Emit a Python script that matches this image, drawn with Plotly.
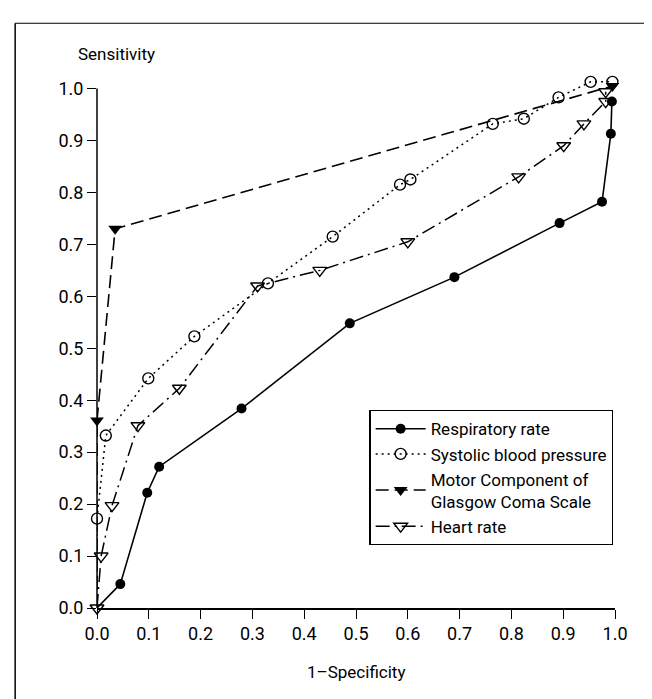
import plotly.graph_objects as go

# Data (1-Specificity, Sensitivity)
resp_x = [0.0, 0.045, 0.097, 0.12, 0.279, 0.488, 0.69, 0.893, 0.975, 0.992, 0.994]
resp_y = [0.0, 0.046, 0.222, 0.272, 0.384, 0.548, 0.637, 0.741, 0.782, 0.913, 0.975]

sbp_x = [0.0, 0.0, 0.017, 0.099, 0.188, 0.33, 0.455, 0.585, 0.605, 0.764, 0.824, 0.891, 0.953, 0.995]
sbp_y = [0.0, 0.172, 0.332, 0.442, 0.523, 0.625, 0.715, 0.815, 0.825, 0.932, 0.942, 0.983, 1.013, 1.013]

gcs_x = [0.0, 0.0, 0.035, 0.995]
gcs_y = [0.0, 0.361, 0.73, 1.005]

hr_x = [0.0, 0.008, 0.029, 0.079, 0.159, 0.31, 0.43, 0.6, 0.814, 0.901, 0.94, 0.982, 0.982]
hr_y = [0.0, 0.10, 0.197, 0.351, 0.423, 0.62, 0.65, 0.705, 0.83, 0.89, 0.932, 0.975, 0.994]

series_names = ["Respiratory rate", "Systolic blood pressure",
                "Motor Component of<br>Glasgow Coma Scale", "Heart rate"]
tick_vals = [0.0, 0.1, 0.2, 0.3, 0.4, 0.5, 0.6, 0.7, 0.8, 0.9, 1.0]
tick_text = ["0.0", "0.1", "0.2", "0.3", "0.4", "0.5", "0.6", "0.7", "0.8", "0.9", "1.0"]

FONT = "Roboto, Liberation Sans, sans-serif"

styles = [
    dict(line=dict(color="black", width=1.6, dash="solid"),
         marker=dict(symbol="circle", color="black", size=10)),
    dict(line=dict(color="black", width=1.5, dash="2px,4px"),
         marker=dict(symbol="circle-open", color="black", size=11,
                     line=dict(width=1.4, color="black"))),
    dict(line=dict(color="black", width=1.6, dash="13px,6px"),
         marker=dict(symbol="triangle-down", color="black", size=12)),
    dict(line=dict(color="black", width=1.5, dash="14px,5px,2px,5px"),
         marker=dict(symbol="triangle-down-open", color="black", size=12,
                     line=dict(width=1.4, color="black"))),
]

fig = go.Figure()

# segments from the origin (origin drawn without a marker for these series)
for xs, ys, st in [(resp_x, resp_y, styles[0]), (sbp_x, sbp_y, styles[1]), (gcs_x, gcs_y, styles[2])]:
    fig.add_trace(go.Scatter(x=xs[:2], y=ys[:2], mode="lines", line=st["line"],
                             showlegend=False, hoverinfo="skip", cliponaxis=False))

fig.add_trace(go.Scatter(x=resp_x[1:], y=resp_y[1:], name=series_names[0],
                         mode="lines+markers", cliponaxis=False, **styles[0]))
fig.add_trace(go.Scatter(x=sbp_x[1:], y=sbp_y[1:], name=series_names[1],
                         mode="lines+markers", cliponaxis=False, **styles[1]))
fig.add_trace(go.Scatter(x=gcs_x[1:], y=gcs_y[1:], name=series_names[2],
                         mode="lines+markers", cliponaxis=False, **styles[2]))
fig.add_trace(go.Scatter(x=hr_x, y=hr_y, name=series_names[3],
                         mode="lines+markers", cliponaxis=False, **styles[3]))

axis_common = dict(
    tickvals=tick_vals, ticktext=tick_text,
    showgrid=False, zeroline=False, linecolor="black", linewidth=1.5,
    ticks="outside", ticklen=9, tickwidth=1.2, tickcolor="black",
    tickfont=dict(family=FONT, size=18, color="black"),
)

fig.update_layout(
    width=652, height=699,
    margin=dict(l=89, r=45, t=65, b=99),
    paper_bgcolor="white", plot_bgcolor="white",
    font=dict(family=FONT, color="black"),
    xaxis=dict(range=[0, 1.0], showline=True, **axis_common),
    yaxis=dict(range=[0, 1.03], showline=False, **axis_common),
    showlegend=True,
    legend=dict(
        x=0.997, y=0.370, xanchor="right", yanchor="top",
        bgcolor="white", bordercolor="black", borderwidth=1.2,
        font=dict(family=FONT, size=17, color="black"),
        itemwidth=50, tracegroupgap=0,
    ),
    annotations=[
        dict(text="Sensitivity", xref="paper", yref="paper", x=-0.04, y=1.013,
             xanchor="left", yanchor="bottom", showarrow=False,
             font=dict(family=FONT, size=17, color="black")),
        dict(text="1–Specificity", xref="paper", yref="paper", x=0.5, y=-0.097,
             xanchor="center", yanchor="top", showarrow=False,
             font=dict(family=FONT, size=17, color="black")),
    ],
    shapes=[
        # y axis line from 0 to 1.0
        dict(type="line", xref="paper", yref="y", x0=0, x1=0, y0=0, y1=1.0,
             line=dict(color="black", width=1.5), layer="below"),
        # page frame (scanned figure border)
        dict(type="line", xref="paper", yref="paper", x0=-0.158, x1=1.1, y0=1.093, y1=1.093,
             line=dict(color="black", width=1.2)),
        dict(type="line", xref="paper", yref="paper", x0=-0.158, x1=-0.158, y0=1.093, y1=-0.2,
             line=dict(color="black", width=1.5)),
        dict(type="line", xref="paper", yref="paper", x0=0.6, x1=1.1, y0=-0.174, y1=-0.174,
             line=dict(color="black", width=1.0)),
    ],
)

fig.write_html("out.html")
